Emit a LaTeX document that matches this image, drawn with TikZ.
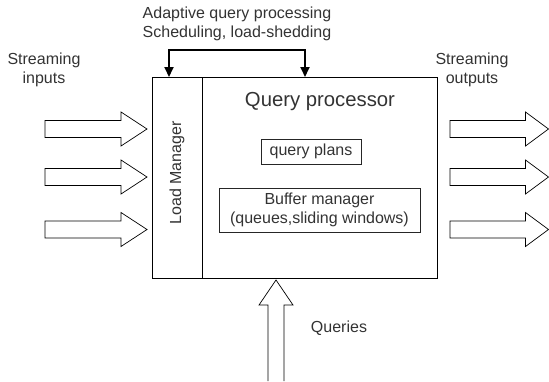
\documentclass[tikz,border=0pt]{standalone}
\usepackage{fontspec}
\setmainfont{Liberation Sans}
\usetikzlibrary{arrows.meta}
\definecolor{txt}{HTML}{333333}
\tikzset{
  lbl/.style={text=txt, font=\fontsize{16}{18.5}\selectfont, align=center, inner sep=0pt},
  boxn/.style={draw=black, line width=0.9pt, inner sep=0pt},
  blk/.style={draw=black, line width=0.7pt, fill=white},
  ctrl/.style={draw=black, line width=1.8pt, {Triangle[width=9pt,length=10pt]}-{Triangle[width=9pt,length=10pt]}}
}
% horizontal block arrow: tail x, tip x, center y, head length
\newcommand\harrow[4]{%
  \path[blk] (#1,#3-8.5) -- (#2-#4,#3-8.5) -- (#2-#4,#3-17) -- (#2,#3) -- (#2-#4,#3+17) -- (#2-#4,#3+8.5) -- (#1,#3+8.5) -- cycle;}
\begin{document}
\begin{tikzpicture}[x=1pt,y=-1pt]
\useasboundingbox (0,0) rectangle (549,381);
% main boxes
\node[boxn, minimum width=50pt, minimum height=201pt] (lm) at (177,177.5) {};
\node[boxn, minimum width=235pt, minimum height=201pt] (qp) at (319.5,177.5) {};
\node[lbl, rotate=90] (lmt) at (177,173) {Load Manager};
\node[lbl, font=\fontsize{20.3}{23}\selectfont] (qpt) at (320,102) {Query processor};
\node[boxn, draw=black!85, minimum width=100pt, minimum height=25pt] (plans) at (311,151.5) {};
\node[lbl] (plant) at (311,151.5) {query plans};
\node[boxn, draw=black!85, minimum width=201pt, minimum height=44pt] (buf) at (319.5,210) {};
\node[lbl] (buft) at (319.5,210) {Buffer manager\\(queues,sliding windows)};
% top control arrows
\coordinate (c1) at (169,77);
\coordinate (c2) at (305,77);
\draw[ctrl] (c1) -- (169,50) -- (305,50) -- (c2);
\node[lbl] (adapt) at (237,24) {Adaptive query processing\\Scheduling, load-shedding};
% inputs
\node[lbl] (sin) at (44,70) {Streaming\\inputs};
\harrow{45}{147}{129}{26}
\harrow{45}{147}{177}{26}
\harrow{45}{147}{229.5}{26}
% outputs
\node[lbl] (sout) at (472,70) {Streaming\\outputs};
\harrow{450}{548.5}{129}{23}
\harrow{450}{548.5}{177}{23}
\harrow{450}{548.5}{229.5}{23}
% queries
\path[blk] (268,381) -- (268,305) -- (259,305) -- (276,280) -- (293,305) -- (284,305) -- (284,381);
\node[lbl] (q) at (339,328) {Queries};
\end{tikzpicture}
\end{document}
